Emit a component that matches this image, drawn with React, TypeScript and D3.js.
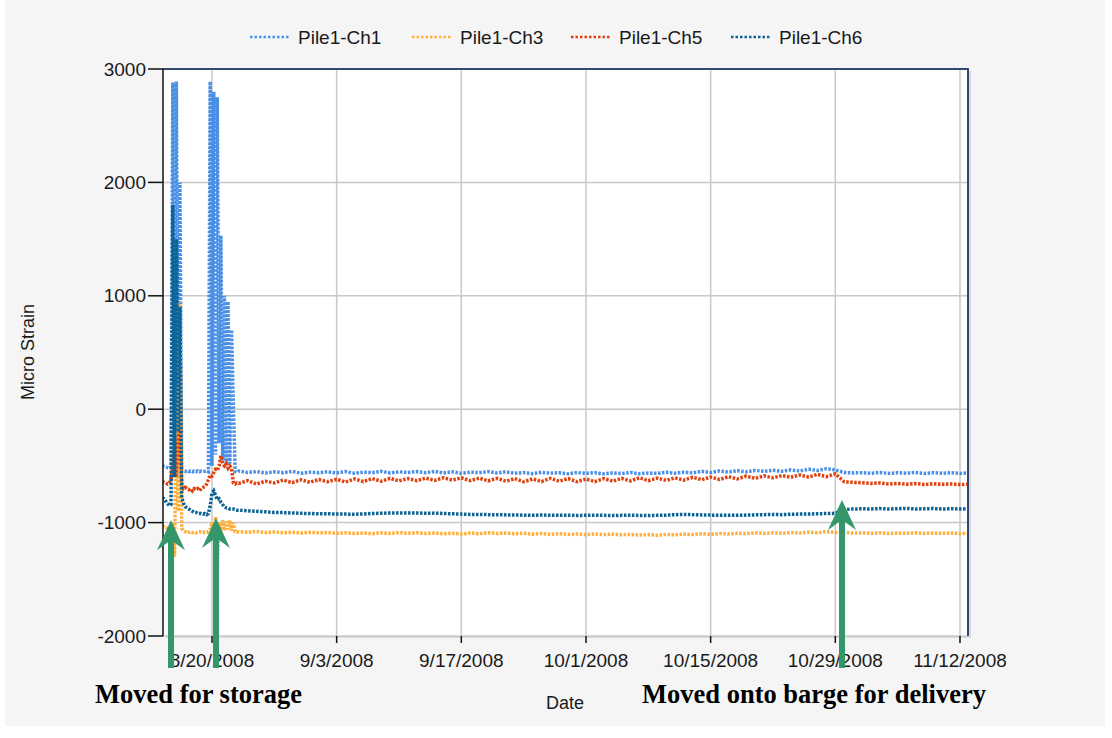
import * as d3 from 'd3';

// sampling: dense around the handling events, then once a day
const SPIKE_START_DAY = -5.6; // days relative to 8/20/2008
const SPIKE_STEP = 0.2;
const DAILY_START_DAY = 3;

const seriesNames = ['Pile1-Ch1', 'Pile1-Ch3', 'Pile1-Ch5', 'Pile1-Ch6'];
const seriesColors = ['#4a8fe6', '#ffae3a', '#e0420f', '#0d6394'];

// dense segment (8/14 - 8/22)
const ch1Spike = [
  -500, -505, -510, -515, -520, -510, 2880, -450, 2890, -300, 2000, -540, -545,
  -548, -542, -550, -545, -552, -546, -550, -544, -552, -546, -550, -548, -545, -552,
  2890, -500, 2800, -400, 2750, -300, 1530, -450, 1000, -500, 950, -480, 700, 50, -550, -555,
];
const ch3Spike = [
  -1030, -1035, -1040, -1050, -1100, -1450, -1000, -1300, 200, -900, 950, -1050, -1070,
  -1080, -1090, -1085, -1080, -1088, -1082, -1090, -1085, -1080, -1088, -1084, -1090, -1086, -1080,
  -1060, -1000, -1150, -950, -1400, -1000, -1100, -980, -1070, -990, -1060, -980, -1070, -1000, -1080, -1085,
];
const ch5Spike = [
  -640, -645, -650, -660, -655, -620, -500, -350, -600, -250, -180, -650, -700,
  -690, -700, -710, -700, -720, -700, -710, -700, -720, -700, -690, -680, -660, -620,
  -580, -590, -560, -530, -540, -500, -410, -480, -500, -480, -520, -500, -520, -650, -660, -650,
];
const ch6Spike = [
  -780, -790, -810, -830, -850, -840, 1800, -600, 1500, -200, 900, -780, -830,
  -860, -870, -880, -890, -900, -910, -910, -920, -920, -920, -925, -920, -930, -920,
  -850, -740, -720, -760, -800, -790, -820, -840, -860, -870, -870, -880, -880, -880, -885, -890,
];

// daily segment (8/23 - 11/13)
const ch1Daily = [
  -545, -558, -550, -562, -552, -560, -548, -565, -555, -560,
  -552, -562, -550, -565, -555, -560, -548, -562, -552, -558,
  -550, -560, -548, -562, -552, -565, -555, -560, -550, -562,
  -552, -565, -558, -568, -556, -565, -560, -570, -558, -566,
  -560, -570, -562, -568, -558, -570, -562, -566, -556, -565,
  -555, -562, -548, -558, -545, -555, -542, -552, -540, -548,
  -538, -548, -535, -545, -530, -540, -525, -535, -558, -562,
  -560, -565, -558, -566, -560, -564, -558, -566, -560, -565,
  -560, -566, -562,
];
const ch3Daily = [
  -1080, -1085, -1078, -1088, -1082, -1090, -1085, -1092, -1086, -1090,
  -1088, -1094, -1090, -1096, -1092, -1098, -1090, -1095, -1088, -1094,
  -1090, -1096, -1092, -1098, -1094, -1100, -1092, -1098, -1090, -1096,
  -1092, -1098, -1094, -1102, -1096, -1104, -1098, -1105, -1100, -1106,
  -1100, -1106, -1102, -1108, -1104, -1110, -1106, -1112, -1104, -1108,
  -1102, -1106, -1098, -1104, -1096, -1100, -1094, -1098, -1090, -1096,
  -1090, -1094, -1088, -1092, -1084, -1090, -1080, -1086, -1088, -1092,
  -1090, -1095, -1090, -1096, -1092, -1094, -1090, -1096, -1092, -1094,
  -1092, -1096, -1094,
];
const ch5Daily = [
  -655, -630, -660, -635, -650, -625, -648, -622, -645, -620,
  -640, -618, -642, -615, -638, -612, -635, -610, -632, -612,
  -630, -608, -628, -605, -625, -605, -630, -608, -632, -610,
  -635, -612, -640, -615, -638, -610, -635, -612, -640, -615,
  -638, -612, -635, -610, -632, -605, -630, -608, -628, -605,
  -625, -600, -622, -598, -620, -595, -615, -590, -610, -588,
  -605, -585, -600, -580, -598, -575, -595, -570, -640, -645,
  -648, -655, -650, -660, -655, -662, -656, -664, -658, -662,
  -660, -664, -662,
];
const ch6Daily = [
  -890, -895, -900, -905, -910, -912, -915, -918, -920, -922,
  -922, -925, -925, -926, -924, -920, -918, -915, -915, -916,
  -915, -918, -916, -920, -922, -925, -928, -928, -930, -930,
  -932, -932, -935, -935, -933, -935, -936, -935, -937, -936,
  -935, -936, -938, -936, -935, -937, -938, -936, -935, -930,
  -928, -930, -932, -934, -935, -936, -935, -934, -932, -930,
  -928, -930, -926, -925, -924, -922, -920, -918, -885, -880,
  -878, -880, -876, -880, -878, -875, -880, -878, -876, -880,
  -878, -880, -878,
];

const yTicks = [3000, 2000, 1000, 0, -1000, -2000];
const xTickLabels = ['8/20/2008', '9/3/2008', '9/17/2008', '10/1/2008', '10/15/2008', '10/29/2008', '11/12/2008'];

// annotations: [day offset from 8/20, strain at arrow tip]
const arrows = [
  [-4.6, -980],
  [0.45, -960],
  [70.75, -800],
];

const W = 1112;
const H = 738;
const M = { left: 163, right: 968, top: 69, bottom: 636 };
const DAY = 86400000;
const BASE = Date.UTC(2008, 7, 20);
const dayDate = (d: number) => new Date(BASE + d * DAY);

const sans = '"Liberation Sans", Arial, sans-serif';
const serif = '"Liberation Serif", "Times New Roman", serif';

export default function App() {
  const x = d3.scaleUtc().domain([dayDate(-5.5), dayDate(84.9)]).range([M.left, M.right]);
  const y = d3.scaleLinear().domain([-2000, 3000]).range([M.bottom, M.top]);

  const spikeDays = ch1Spike.map((_, i) => SPIKE_START_DAY + i * SPIKE_STEP);
  const dailyDays = ch1Daily.map((_, i) => DAILY_START_DAY + i);
  const days = [...spikeDays, ...dailyDays];
  const series = [
    [...ch1Spike, ...ch1Daily],
    [...ch3Spike, ...ch3Daily],
    [...ch5Spike, ...ch5Daily],
    [...ch6Spike, ...ch6Daily],
  ];

  const line = d3
    .line<number>()
    .x((_, i) => x(dayDate(days[i])))
    .y(v => y(v));

  const parseTick = d3.utcParse('%m/%d/%Y');
  const xTicks = xTickLabels.map(s => parseTick(s) as Date);

  const legendX = [250, 412, 571, 731];

  return (
    <svg width={W} height={H} style={{ position: 'absolute', left: 0, top: 0 }}>
      <rect width={W} height={H} fill="#ffffff" />
      <rect x={5} y={0} width={W - 12} height={H - 12} fill="#f5f5f5" />

      {/* legend */}
      {seriesNames.map((name, i) => (
        <g key={name} transform={`translate(${legendX[i]},37)`}>
          <line x1={0} x2={39} y1={0} y2={0} stroke={seriesColors[i]} strokeWidth={2.5} strokeDasharray="2.5 2" />
          <text x={48} y={0} dy="0.35em" fontFamily={sans} fontSize={19} fill="#1a1a1a">
            {name}
          </text>
        </g>
      ))}

      {/* plot area */}
      <rect x={M.left + 3} y={M.top + 2} width={M.right - M.left} height={M.bottom - M.top} fill="#c4cad6" opacity={0.6} />
      <rect x={M.left} y={M.top} width={M.right - M.left} height={M.bottom - M.top} fill="#ffffff" />

      {yTicks.map(t => (
        <line key={t} x1={M.left} x2={M.right} y1={y(t)} y2={y(t)} stroke="#c8c8c8" strokeWidth={1.5} />
      ))}
      {xTicks.map((t, i) => (
        <line key={i} x1={x(t)} x2={x(t)} y1={M.top} y2={M.bottom} stroke="#c8c8c8" strokeWidth={1.5} />
      ))}

      <defs>
        <clipPath id="plotClip">
          <rect x={M.left} y={M.top} width={M.right - M.left} height={M.bottom - M.top} />
        </clipPath>
      </defs>

      <g clipPath="url(#plotClip)">
        {series.map((vals, i) => (
          <path
            key={i}
            d={line(vals) || ''}
            fill="none"
            stroke={seriesColors[i]}
            strokeWidth={3.5}
            strokeDasharray="2.5 1.5"
          />
        ))}
      </g>

      {/* frame */}
      <line x1={M.left} x2={M.right + 1} y1={M.top} y2={M.top} stroke="#34496e" strokeWidth={2} />
      <line x1={M.right} x2={M.right} y1={M.top} y2={M.bottom} stroke="#34496e" strokeWidth={2} />
      <line x1={M.left} x2={M.left} y1={M.top} y2={M.bottom} stroke="#111" strokeWidth={1.5} />

      {/* y axis */}
      {yTicks.map(t => (
        <g key={t}>
          <line x1={M.left - 15} x2={M.left} y1={y(t)} y2={y(t)} stroke="#111" strokeWidth={1.5} />
          <text x={M.left - 17} y={y(t)} dy="0.35em" textAnchor="end" fontFamily={sans} fontSize={19} fill="#1a1a1a">
            {t}
          </text>
        </g>
      ))}

      {/* x axis */}
      {xTicks.map((t, i) => (
        <g key={i}>
          <line x1={x(t)} x2={x(t)} y1={M.bottom} y2={M.bottom + 7} stroke="#111" strokeWidth={1.5} />
          <text x={x(t)} y={M.bottom + 31} textAnchor="middle" fontFamily={sans} fontSize={19} fill="#1a1a1a">
            {xTickLabels[i]}
          </text>
        </g>
      ))}

      <text x={565} y={709} textAnchor="middle" fontFamily={sans} fontSize={18} fill="#1a1a1a">
        Date
      </text>
      <text
        transform="translate(34,352) rotate(-90)"
        textAnchor="middle"
        fontFamily={sans}
        fontSize={18}
        fill="#1a1a1a"
      >
        Micro Strain
      </text>

      {/* annotations */}
      {arrows.map(([d, v], i) => {
        const ax = x(dayDate(d));
        const tip = y(v);
        const bottom = M.bottom + 32;
        const p = `M${ax},${tip} L${ax + 14},${tip + 30} L${ax + 3},${tip + 22} L${ax + 3},${bottom} L${ax - 3},${bottom} L${ax - 3},${tip + 22} L${ax - 14},${tip + 30} Z`;
        return <path key={i} d={p} fill="#33976a" />;
      })}

      <text x={95} y={703} fontFamily={serif} fontWeight="bold" fontSize={26.5} fill="#000">
        Moved for storage
      </text>
      <text x={642} y={703} fontFamily={serif} fontWeight="bold" fontSize={26.5} fill="#000">
        Moved onto barge for delivery
      </text>
    </svg>
  );
}
